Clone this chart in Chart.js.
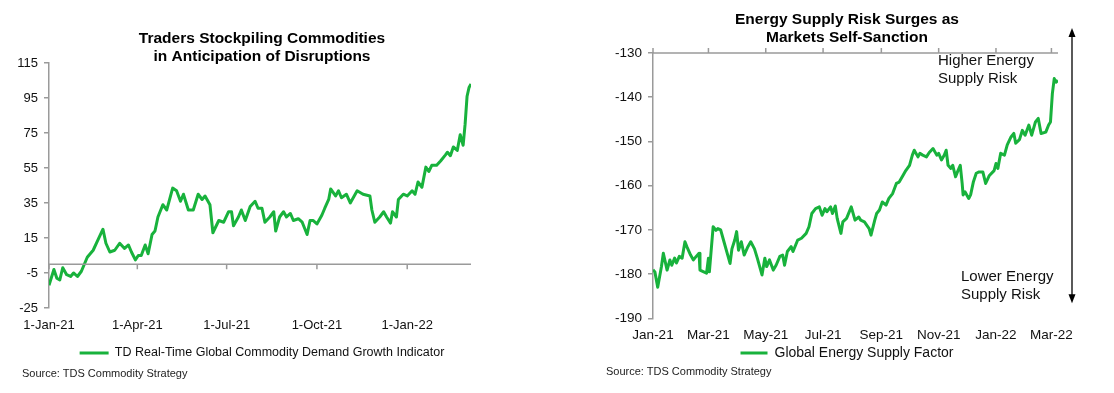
<!DOCTYPE html>
<html>
<head>
<meta charset="utf-8">
<script src="https://cdn.jsdelivr.net/npm/chart.js@4"></script>
<style>
  body { margin: 0; background: #fff; width: 1114px; height: 393px; position: relative; overflow: hidden; }
  .box { position: absolute; top: 0; height: 393px; }
  .source { position: absolute; font: 11px "Liberation Sans", Arial, sans-serif; color: #222; white-space: nowrap; }
</style>
</head>
<body>
<div class="box" style="left:0;width:524px"><canvas id="demandChart"></canvas></div>
<div class="box" style="left:590px;width:514px"><canvas id="energyChart"></canvas></div>
<div class="source" style="left:22px;top:367px">Source: TDS Commodity Strategy</div>
<div class="source" style="left:606px;top:365px">Source: TDS Commodity Strategy</div>
<script>
// days counted from 1-Jan-21
const startDate = Date.UTC(2021, 0, 1);

// left chart: TD Real-Time Global Commodity Demand Growth Indicator
const demandDays = [0, 5, 8, 11, 14, 18, 22, 25, 29, 33, 39, 45, 50, 55, 58, 62, 67, 72, 77, 81,
  84, 88, 91, 94, 98, 101, 105, 108, 111, 116, 120, 126, 130, 134, 137, 142, 147, 152, 156, 159,
  164, 167, 173, 178, 183, 186, 188, 193, 196, 200, 205, 210, 213, 217, 220, 225, 229, 231, 235, 239,
  242, 246, 249, 254, 258, 263, 266, 269, 273, 278, 281, 285, 287, 292, 295, 298, 303, 307, 314, 320,
  327, 329, 332, 337, 341, 344, 348, 350, 354, 356, 361, 365, 370, 373, 376, 380, 384, 387, 390, 395,
  399, 404, 406, 409, 412, 416, 419, 422, 424, 426, 428, 430];
const demandValues = [-12, -3, -8, -9, -2, -6, -7, -5, -7, -4, 4, 8, 14, 20, 12, 7, 8, 12, 9, 11,
  7, 2.5, 5, 5, 11, 6, 17, 19, 27, 34, 31, 43.5, 42, 36, 40, 31, 31, 40, 37, 39,
  34, 18, 25, 24, 30, 30, 22, 27, 31, 25, 33, 36, 32, 32, 24, 27, 30, 19, 27, 30,
  27, 29, 25, 26, 24, 17, 25, 25, 23, 28, 32, 37, 43, 39, 42, 38, 40, 35, 42, 40,
  39, 31, 24, 27, 30, 27, 23.5, 30, 27, 37, 40, 39, 42, 40, 47, 44, 55.5, 53, 56.5, 56.5,
  59, 62.5, 64, 62, 67, 65, 74, 68, 80, 96, 101, 103];
const demandTickDates = ['2021-01-01', '2021-04-01', '2021-07-01', '2021-10-01', '2022-01-01'];
const demandTickLabels = ['1-Jan-21', '1-Apr-21', '1-Jul-21', '1-Oct-21', '1-Jan-22'];

// right chart: Global Energy Supply Factor
const energyDays = [0, 2, 5, 9, 11, 15, 18, 20, 23, 25, 28, 31, 34, 36, 40, 43, 46, 49, 50, 54,
  57, 59, 60, 64, 67, 69, 72, 75, 79, 82, 84, 87, 89, 91, 94, 97, 101, 104, 108, 111,
  116, 119, 121, 124, 128, 131, 135, 138, 140, 143, 147, 149, 154, 158, 163, 166, 169, 173, 177, 180,
  183, 185, 189, 191, 194, 196, 200, 202, 206, 211, 215, 219, 221, 225, 230, 232, 236, 238, 241, 244,
  248, 251, 255, 259, 262, 266, 269, 273, 276, 278, 282, 284, 287, 291, 294, 298, 302, 304, 307, 310,
  312, 314, 317, 319, 322, 324, 327, 329, 330, 332, 336, 338, 341, 344, 347, 351, 354, 358, 363, 365,
  367, 370, 374, 377, 381, 384, 386, 390, 393, 396, 400, 403, 407, 410, 413, 418, 421, 423, 425, 427,
  429, 431];
const energyValues = [-179, -179.5, -183, -178.3, -175.3, -179.1, -176.8, -178, -176.4, -177.5, -176, -176.4, -172.7, -173.8, -175.7, -176.8, -176, -175.3, -179.1, -179.5,
  -179.8, -176.4, -179.5, -169.3, -170.1, -169.7, -170, -172.3, -175.3, -177.6, -174.3, -172.3, -170.4, -174.6, -172.7, -175.7, -173.8, -172.7, -174.3, -176.4,
  -180.2, -176.4, -178.3, -176.8, -179.1, -178, -176, -175.7, -178, -174.9, -173.8, -174.9, -172.3, -171.9, -170.8, -169.3, -166.3, -165.2, -164.8, -166.7,
  -165.2, -165.9, -164.8, -166.3, -164.6, -167.4, -170.8, -168.2, -167.4, -164.8, -167.8, -167.1, -167.8, -168.2, -169.7, -171.2, -167.8, -166.3, -165.5, -163.7,
  -164.4, -162.9, -161.8, -159.5, -159.2, -157.7, -156.6, -155.4, -153.1, -152, -153.5, -152.7, -153.1, -153.5, -152.5, -151.6, -153.1, -152.7, -154.2, -153.1,
  -152, -155.4, -156.1, -155.4, -158, -156.9, -155.4, -159.5, -162.1, -161.4, -162.9, -162.1, -159.1, -157.2, -156.9, -156.9, -159.5, -157.7, -156.6, -155,
  -156.1, -152.7, -153.1, -150.8, -149, -148.2, -150.4, -149.6, -147.5, -148.6, -146.3, -148.6, -145.6, -144.8, -148.2, -147.9, -146.3, -145.6, -139.2, -135.8,
  -136.6, -136.2];
const energyTickDates = ['2021-01-01', '2021-03-01', '2021-05-01', '2021-07-01', '2021-09-01', '2021-11-01', '2022-01-01', '2022-03-01'];
const energyTickLabels = ['Jan-21', 'Mar-21', 'May-21', 'Jul-21', 'Sep-21', 'Nov-21', 'Jan-22', 'Mar-22'];

const green = '#18b23c';
const axisGrey = '#9a9a9a';
const font = '"Liberation Sans", Arial, sans-serif';

function dayOf(s) {
  const [y, m, d] = s.split('-').map(Number);
  return Math.round((Date.UTC(y, m - 1, d) - startDate) / 86400000);
}

function toPoints(days, values) {
  return days.map((d, i) => ({ x: d, y: values[i] }));
}

// horizontal axis line drawn across the plot (at y = 0 on the left, along the top on the right)
const crossLine = {
  id: 'crossLine',
  afterDatasetsDraw(chart, args, opts) {
    const { ctx, chartArea, scales } = chart;
    const y = opts.atTop ? chartArea.top : scales.y.getPixelForValue(opts.value);
    const dir = opts.atTop ? -1 : 1;
    ctx.save();
    ctx.strokeStyle = axisGrey;
    ctx.lineWidth = 1.5;
    ctx.beginPath();
    ctx.moveTo(chartArea.left, y);
    ctx.lineTo(chartArea.right, y);
    scales.x.ticks.forEach(t => {
      const x = scales.x.getPixelForValue(t.value);
      ctx.moveTo(x, y);
      ctx.lineTo(x, y + dir * 5);
    });
    ctx.stroke();
    ctx.restore();
  }
};

// arrow and notes on the right of the energy chart
const riskArrow = {
  id: 'riskArrow',
  afterDraw(chart) {
    const { ctx, chartArea } = chart;
    const x = chartArea.right + 14;
    const top = chartArea.top - 25;
    const bottom = chartArea.bottom - 15;
    ctx.save();
    ctx.strokeStyle = '#000';
    ctx.fillStyle = '#000';
    ctx.lineWidth = 1.3;
    ctx.beginPath();
    ctx.moveTo(x, top + 6);
    ctx.lineTo(x, bottom - 6);
    ctx.stroke();
    ctx.beginPath();
    ctx.moveTo(x, top);
    ctx.lineTo(x - 3.5, top + 9);
    ctx.lineTo(x + 3.5, top + 9);
    ctx.closePath();
    ctx.fill();
    ctx.beginPath();
    ctx.moveTo(x, bottom);
    ctx.lineTo(x - 3.5, bottom - 9);
    ctx.lineTo(x + 3.5, bottom - 9);
    ctx.closePath();
    ctx.fill();
    ctx.font = '15px ' + font;
    ctx.fillStyle = '#111';
    ctx.textBaseline = 'middle';
    ctx.fillText('Higher Energy', chartArea.right - 120, chartArea.top + 8);
    ctx.fillText('Supply Risk', chartArea.right - 120, chartArea.top + 26);
    ctx.fillText('Lower Energy', chartArea.right - 97, chartArea.bottom - 41);
    ctx.fillText('Supply Risk', chartArea.right - 97, chartArea.bottom - 23);
    ctx.restore();
  }
};

function lineChart(id, cfg) {
  const tickDays = cfg.tickDates.map(dayOf);
  return new Chart(document.getElementById(id), {
    type: 'line',
    data: {
      datasets: [{
        label: cfg.label,
        data: toPoints(cfg.days, cfg.values),
        borderColor: green,
        backgroundColor: green,
        borderWidth: 3,
        pointRadius: 0,
        borderJoinStyle: 'round',
        tension: 0,
        fill: false
      }]
    },
    options: {
      responsive: true,
      maintainAspectRatio: false,
      animation: false,
      layout: { padding: { left: 0, right: 0, top: 0, bottom: cfg.bottomPad } },
      plugins: {
        title: {
          display: true,
          text: cfg.title,
          color: '#000',
          font: { family: font, size: 15.5, weight: 'bold', lineHeight: 1.16 },
          padding: cfg.titlePad
        },
        legend: {
          position: 'bottom',
          labels: {
            color: '#111',
            font: { family: font, size: cfg.legendSize },
            usePointStyle: true,
            pointStyle: 'line',
            pointStyleWidth: cfg.legendLine,
            padding: cfg.legendPad
          }
        },
        tooltip: { enabled: false },
        crossLine: cfg.cross
      },
      scales: {
        x: {
          type: 'linear',
          min: 0,
          max: cfg.days[cfg.days.length - 1],
          afterFit: s => { s.height = cfg.xHeight; },
          grid: { display: false, drawTicks: false },
          border: { display: false },
          afterBuildTicks: s => { s.ticks = tickDays.map(v => ({ value: v })); },
          ticks: {
            color: '#111',
            font: { family: font, size: cfg.tickSize },
            padding: cfg.xTickPad,
            maxRotation: 0,
            autoSkip: false,
            callback: v => cfg.tickLabels[tickDays.indexOf(v)]
          }
        },
        y: {
          min: cfg.yMin,
          max: cfg.yMax,
          afterFit: s => { s.width = cfg.yWidth; },
          grid: { drawOnChartArea: false, tickLength: 5, color: axisGrey, lineWidth: 1.5 },
          border: { color: axisGrey, width: 1.5 },
          ticks: {
            stepSize: cfg.yStep,
            color: '#111',
            font: { family: font, size: cfg.tickSize },
            padding: 6
          }
        },
        pad: {
          position: 'right',
          afterFit: s => { s.width = cfg.rightWidth; },
          grid: { display: false, drawTicks: false },
          border: { display: false },
          ticks: { display: false }
        }
      }
    },
    plugins: cfg.extra
  });
}

lineChart('demandChart', {
  label: 'TD Real-Time Global Commodity Demand Growth Indicator',
  title: ['Traders Stockpiling Commodities', 'in Anticipation of Disruptions'],
  titlePad: { top: 30, bottom: -3 },
  days: demandDays,
  values: demandValues,
  tickDates: demandTickDates,
  tickLabels: demandTickLabels,
  yMin: -25, yMax: 115, yStep: 20,
  yWidth: 49, rightWidth: 53,
  tickSize: 13, xTickPad: 10, xHeight: 36,
  legendSize: 12.5, legendLine: 29, legendPad: 2.75,
  bottomPad: 23.75,
  cross: { value: 0, atTop: false },
  extra: [crossLine]
});

lineChart('energyChart', {
  label: 'Global Energy Supply Factor',
  title: ['Energy Supply Risk Surges as', 'Markets Self-Sanction'],
  titlePad: { top: 11, bottom: 6 },
  days: energyDays,
  values: energyValues,
  tickDates: energyTickDates,
  tickLabels: energyTickLabels,
  yMin: -190, yMax: -130, yStep: 10,
  yWidth: 63, rightWidth: 46,
  tickSize: 13.5, xTickPad: 9, xHeight: 26,
  legendSize: 14, legendLine: 27, legendPad: 1.7,
  bottomPad: 23,
  cross: { value: -130, atTop: true },
  extra: [crossLine, riskArrow]
});
</script>
</body>
</html>
